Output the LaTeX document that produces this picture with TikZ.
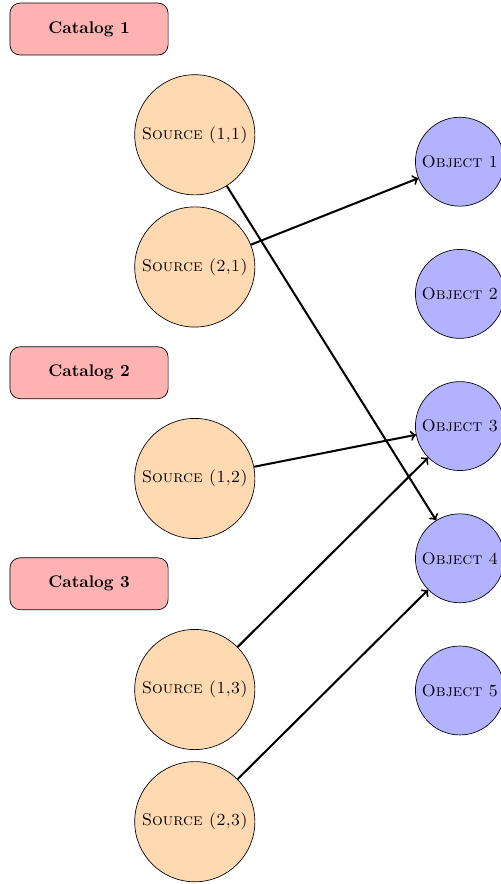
\documentclass[tikz,border=0pt]{standalone}
\usetikzlibrary{positioning}

\begin{document}
\begin{tikzpicture}[very thick,node distance=2.2cm,on grid,
	catbox/.style={draw,thin,rounded corners=6pt,fill=red!30,minimum width=3.29cm,minimum height=1.08cm,font=\bfseries},
	srcnode/.style={draw,thin,circle,fill=orange!30,minimum size=2.5cm,inner sep=0pt,font=\scshape},
	objnode/.style={draw,thin,circle,fill=blue!30,minimum size=1.85cm,inner sep=0pt,font=\scshape}]
			\useasboundingbox (0,0) rectangle (10.42,-18.39);
			\node[catbox] (cat_1) at (1.852,-0.604) {Catalog 1};
			\node[srcnode] (s_11) [below right=2.2cm and 2.2cm of cat_1] {Source (1,1)};
			\node[srcnode] (s_21) [below=2.75cm of s_11] {Source (2,1)};
			\node[catbox] (cat_2) [below left=2.2cm and 2.2cm of s_21] {Catalog 2};
			\node[srcnode] (s_12) [below right=2.2cm and 2.2cm of cat_2] {Source (1,2)};
			\node[catbox] (cat_3) [below left=2.19cm and 2.2cm of s_12] {Catalog 3};
			\node[srcnode] (s_13) [below right=2.2cm and 2.2cm of cat_3] {Source (1,3)};
			\node[srcnode] (s_23) [below=2.75cm of s_13] {Source (2,3)};

			\node[objnode] (o_1) [below right=0.56cm and 5.515cm of s_11] {Object 1};
			\node[objnode] (o_2) [below=2.75cm of o_1] {Object 2};
			\node[objnode] (o_3) [below=2.75cm of o_2] {Object 3};
			\node[objnode] (o_4) [below=2.75cm of o_3] {Object 4};
			\node[objnode] (o_5) [below=2.75cm of o_4] {Object 5};
			\path[->]
			(s_11) edge (o_4)
			(s_21) edge (o_1)
			(s_12) edge (o_3)
			(s_13) edge (o_3)
			(s_23) edge (o_4);
		\end{tikzpicture}
\end{document}
